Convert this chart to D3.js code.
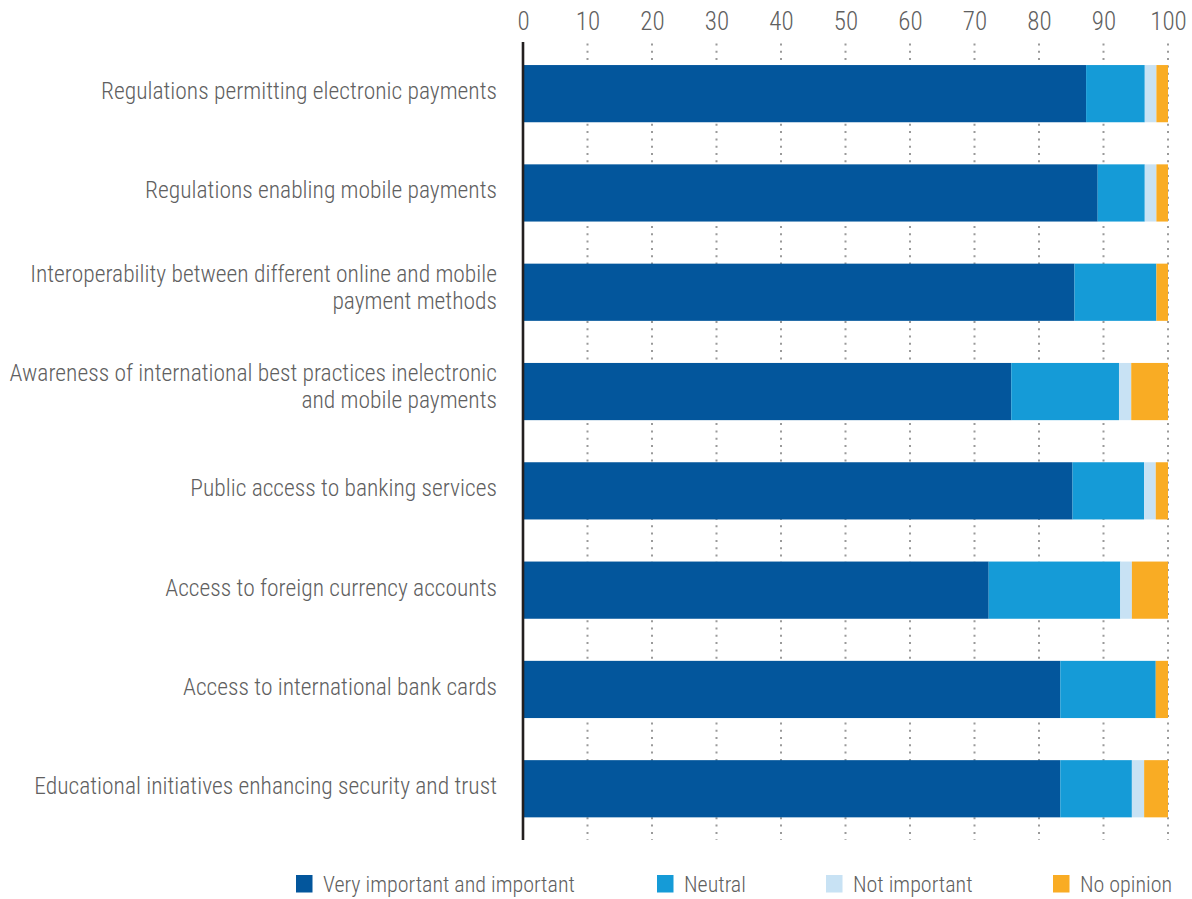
<!DOCTYPE html>
<html>
<head>
<meta charset="utf-8">
<script src="https://cdn.jsdelivr.net/npm/d3@7"></script>
<style>
  html, body { margin: 0; padding: 0; background: #fff; }
  svg { display: block; }
  text { font-family: "Roboto Condensed", "Liberation Sans Narrow", "DejaVu Sans Condensed", sans-serif; font-weight: 300; fill: #606060; }
</style>
</head>
<body>
<svg id="chart" width="1192" height="899"></svg>
<script>
// Survey categories (line breaks mark where a label wraps)
const categories = [
  "Regulations permitting electronic payments",
  "Regulations enabling mobile payments",
  "Interoperability between different online and mobile\npayment methods",
  "Awareness of international best practices inelectronic\nand mobile payments",
  "Public access to banking services",
  "Access to foreign currency accounts",
  "Access to international bank cards",
  "Educational initiatives enhancing security and trust"
];

// Share of respondents (%) per answer
const veryImportant = [87.3, 89.1, 85.5, 75.7, 85.2, 72.2, 83.3, 83.3];
const neutral       = [9.1, 7.3, 12.7, 16.7, 11.1, 20.4, 14.8, 11.1];
const notImportant  = [1.8, 1.8, 0.0, 1.9, 1.8, 1.8, 0.0, 1.9];
const noOpinion     = [1.8, 1.8, 1.8, 5.7, 1.9, 5.6, 1.9, 3.7];

const seriesNames = ["Very important and important", "Neutral", "Not important", "No opinion"];
const seriesColors = ["#03569c", "#159bd7", "#c8e2f4", "#f9ac24"];
const xTicks = [0, 10, 20, 30, 40, 50, 60, 70, 80, 90, 100];

const rows = categories.map((c, i) => ({
  category: c,
  [seriesNames[0]]: veryImportant[i],
  [seriesNames[1]]: neutral[i],
  [seriesNames[2]]: notImportant[i],
  [seriesNames[3]]: noOpinion[i]
}));

const svg = d3.select("#chart");

const x = d3.scaleLinear().domain([0, 100]).range([523, 1168]);
const step = 99.3;
const y = d3.scaleBand()
  .domain(categories)
  .range([44, 44 + 8 * step])
  .paddingInner(0.424)
  .paddingOuter(0.212);
const color = d3.scaleOrdinal().domain(seriesNames).range(seriesColors);

// Dotted vertical gridlines
svg.append("g")
  .selectAll("line")
  .data(xTicks.filter(t => t > 0))
  .join("line")
  .attr("x1", d => x(d)).attr("x2", d => x(d))
  .attr("y1", 43.5).attr("y2", 840)
  .attr("stroke", "#9a9a9a")
  .attr("stroke-width", 2)
  .attr("stroke-dasharray", "2,5.3");

// Top axis labels
const xAxis = svg.append("g")
  .attr("transform", "translate(0,30)")
  .call(d3.axisTop(x).tickValues(xTicks).tickSize(0).tickPadding(0));
xAxis.select(".domain").remove();
xAxis.selectAll("text")
  .attr("font-size", 25)
  .attr("dy", 0)
  .style("font-family", '"Roboto Condensed", "Liberation Sans Narrow", sans-serif')
  .style("font-weight", 300)
  .attr("fill", "#606060");

// Stacked bars
const stacked = d3.stack().keys(seriesNames)(rows);
svg.append("g")
  .selectAll("g")
  .data(stacked)
  .join("g")
  .attr("fill", d => color(d.key))
  .selectAll("rect")
  .data(d => d)
  .join("rect")
  .attr("x", d => x(d[0]))
  .attr("width", d => Math.max(0, x(d[1]) - x(d[0])))
  .attr("y", d => y(d.data.category))
  .attr("height", y.bandwidth());

// Zero baseline
svg.append("line")
  .attr("x1", x(0)).attr("x2", x(0))
  .attr("y1", 42).attr("y2", 840)
  .attr("stroke", "#231f20")
  .attr("stroke-width", 2.6);

// Category labels
const labels = svg.append("g")
  .selectAll("text")
  .data(categories)
  .join("text")
  .attr("text-anchor", "end")
  .attr("font-size", 23.5)
  .attr("x", 497);
labels.each(function(d) {
  const lines = d.split("\n");
  const cy = y(d) + y.bandwidth() / 2;
  const t = d3.select(this);
  if (lines.length === 1) {
    t.append("tspan").attr("x", 497).attr("y", cy + 5.5).text(lines[0]);
  } else {
    t.append("tspan").attr("x", 497).attr("y", cy - 10.5).text(lines[0]);
    t.append("tspan").attr("x", 497).attr("y", cy + 16.5).text(lines[1]);
  }
});

// Legend
const legendX = [296, 657, 826, 1053];
const legend = svg.append("g")
  .selectAll("g")
  .data(seriesNames)
  .join("g")
  .attr("transform", (d, i) => `translate(${legendX[i]},875)`);
legend.append("rect")
  .attr("width", 16.5).attr("height", 17.5)
  .attr("fill", d => color(d));
legend.append("text")
  .attr("x", 27).attr("y", 17)
  .attr("font-size", 22)
  .text(d => d);
</script>
</body>
</html>
